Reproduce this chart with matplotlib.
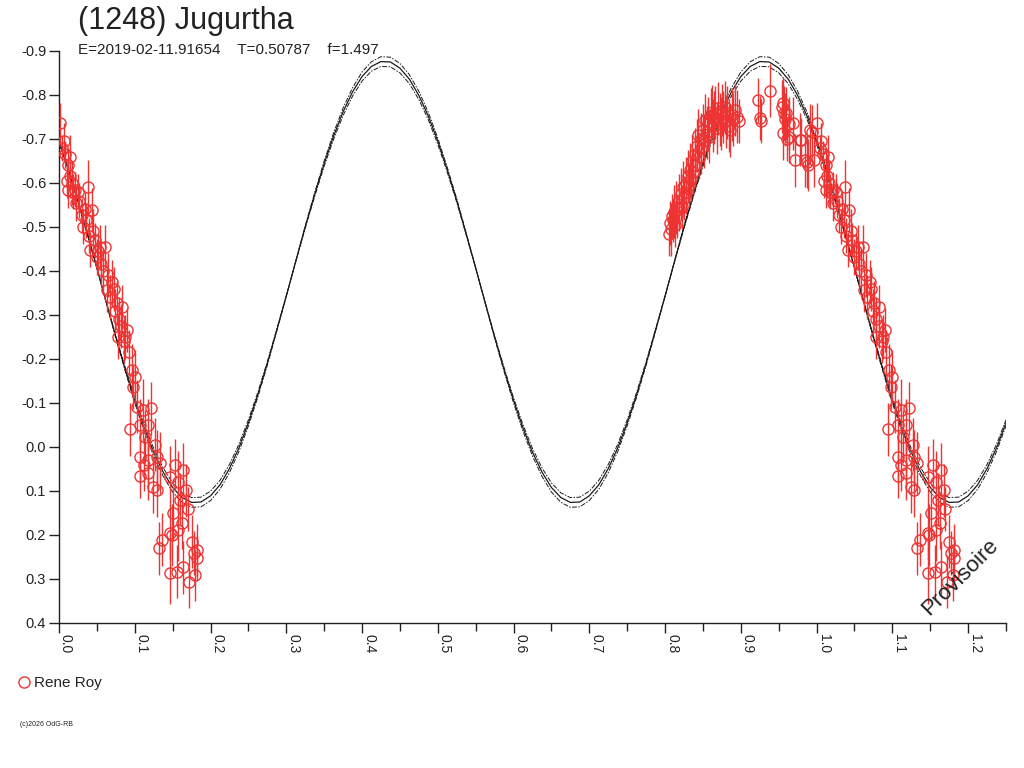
"""
(1248) Jugurtha - lightcurve folded on phase, Fourier fit with envelope
"""

import numpy as np
import matplotlib

matplotlib.use("Agg")
import matplotlib.pyplot as plt
from matplotlib.lines import Line2D

matplotlib.rcParams.update(
    {
        "font.family": ["Liberation Sans", "DejaVu Sans", "sans-serif"],
        "axes.unicode_minus": False,
        "figure.facecolor": "white",
    }
)

COLORS = {
    "text": "#222222",
    "fit": "#1a1a1a",
    "obs": "#EE3333",
}

TITLE = "(1248) Jugurtha"
SUBTITLE = "E=2019-02-11.91654    T=0.50787    f=1.497"
OBSERVER = "Rene Roy"
WATERMARK = "Provisoire"
COPYRIGHT = "(c)2026 OdG-RB"

# ─── data ─────────────────────────────────

# fitted curve, read every 0.0125 in phase from 0.0 to 1.0
FIT_STEP = 0.0125
FIT_MAG = [
    -0.695, -0.630, -0.560, -0.484, -0.407, -0.328, -0.250, -0.176,
    -0.106, -0.043, 0.012, 0.057, 0.092, 0.115, 0.126, 0.125,
    0.111, 0.086, 0.049, 0.002, -0.055, -0.119, -0.190, -0.266,
    -0.343, -0.422, -0.500, -0.574, -0.644, -0.707, -0.762, -0.807,
    -0.842, -0.865, -0.876, -0.875, -0.861, -0.836, -0.799, -0.752,
    -0.695, -0.630, -0.560, -0.484, -0.407, -0.328, -0.250, -0.176,
    -0.106, -0.043, 0.012, 0.057, 0.092, 0.115, 0.126, 0.125,
    0.111, 0.086, 0.049, 0.002, -0.055, -0.119, -0.190, -0.266,
    -0.343, -0.422, -0.500, -0.574, -0.644, -0.707, -0.762, -0.807,
    -0.842, -0.865, -0.876, -0.875, -0.861, -0.836, -0.799, -0.752,
    -0.695,
]
FIT_MEAN = -0.375
FIT_AMP_ERR = 0.022  # relative amplitude uncertainty of the envelope curves

OBS_PHASE = [
    # 0.00 - 0.09
    0.001, 0.006, 0.004, 0.008, 0.015, 0.012, 0.010, 0.014, 0.012, 0.018,
    0.017, 0.021, 0.025, 0.038, 0.022, 0.027, 0.030, 0.043, 0.034, 0.032,
    0.036, 0.039, 0.041, 0.045, 0.047, 0.054, 0.061, 0.050, 0.056, 0.052,
    0.058, 0.065, 0.070, 0.063, 0.067, 0.072, 0.076, 0.083, 0.074, 0.079,
    0.090, 0.078, 0.086, 0.082,
    # 0.085 - 0.185
    0.087, 0.092, 0.096, 0.098, 0.100, 0.094, 0.103, 0.111, 0.122, 0.118,
    0.107, 0.114, 0.127, 0.107, 0.118, 0.129, 0.133, 0.107, 0.118, 0.124,
    0.129, 0.112, 0.147, 0.153, 0.164, 0.157, 0.168, 0.160, 0.151, 0.163,
    0.157, 0.147, 0.136, 0.149, 0.132, 0.175, 0.182, 0.182, 0.147, 0.156,
    0.164, 0.180, 0.172, 0.178, 0.170,
    # 0.80 - 0.90
    0.805, 0.806, 0.808, 0.809, 0.811, 0.812, 0.813, 0.815, 0.816, 0.818,
    0.819, 0.821, 0.822, 0.824, 0.825, 0.827, 0.828, 0.830, 0.831, 0.833,
    0.834, 0.836, 0.837, 0.839, 0.840, 0.842, 0.844, 0.845, 0.847, 0.848,
    0.850, 0.852, 0.853, 0.855, 0.857, 0.858, 0.860, 0.862, 0.863, 0.865,
    0.866, 0.868, 0.870, 0.872, 0.874, 0.875, 0.877, 0.879, 0.880, 0.882,
    0.884, 0.886, 0.888, 0.890, 0.892, 0.895, 0.897,
    # 0.92 - 1.00
    0.923, 0.925, 0.926, 0.938, 0.954, 0.956, 0.957, 0.958, 0.960, 0.956,
    0.963, 0.964, 0.969, 0.961, 0.972, 0.978, 0.980, 0.985, 0.987, 0.989,
    0.991, 0.994, 0.997,
]
OBS_MAG = [
    -0.736, -0.696, -0.680, -0.665, -0.660, -0.640, -0.605, -0.615, -0.584, -0.580,
    -0.600, -0.585, -0.580, -0.592, -0.554, -0.560, -0.527, -0.539, -0.540, -0.501,
    -0.515, -0.480, -0.448, -0.490, -0.470, -0.455, -0.455, -0.432, -0.417, -0.445,
    -0.400, -0.391, -0.376, -0.357, -0.342, -0.360, -0.327, -0.319, -0.308, -0.290,
    -0.267, -0.251, -0.240, -0.275,
    -0.250, -0.215, -0.175, -0.137, -0.160, -0.040, -0.092, -0.084, -0.088, -0.050,
    -0.050, -0.023, -0.005, 0.022, 0.030, 0.022, 0.037, 0.066, 0.060, 0.090,
    0.098, 0.040, 0.068, 0.041, 0.052, 0.079, 0.098, 0.120, 0.151, 0.172,
    0.189, 0.196, 0.211, 0.200, 0.230, 0.215, 0.234, 0.253, 0.287, 0.283,
    0.273, 0.291, 0.306, 0.240, 0.140,
    -0.485, -0.510, -0.495, -0.525, -0.516, -0.535, -0.505, -0.545, -0.525, -0.560,
    -0.540, -0.575, -0.546, -0.590, -0.565, -0.600, -0.580, -0.615, -0.595, -0.630,
    -0.610, -0.650, -0.625, -0.665, -0.640, -0.685, -0.709, -0.660, -0.700, -0.680,
    -0.720, -0.695, -0.743, -0.715, -0.735, -0.705, -0.755, -0.762, -0.730, -0.748,
    -0.760, -0.725, -0.770, -0.745, -0.735, -0.766, -0.750, -0.772, -0.740, -0.760,
    -0.730, -0.720, -0.755, -0.745, -0.766, -0.751, -0.740,
    -0.789, -0.747, -0.740, -0.810, -0.773, -0.781, -0.760, -0.745, -0.758, -0.713,
    -0.705, -0.735, -0.736, -0.700, -0.652, -0.698, -0.698, -0.652, -0.648, -0.641,
    -0.720, -0.717, -0.652,
]
OBS_ERR = [
    0.045, 0.040, 0.030, 0.030, 0.050, 0.040, 0.040, 0.050, 0.040, 0.040,
    0.050, 0.040, 0.040, 0.060, 0.040, 0.040, 0.040, 0.050, 0.040, 0.040,
    0.040, 0.040, 0.040, 0.050, 0.040, 0.050, 0.050, 0.040, 0.050, 0.040,
    0.050, 0.050, 0.050, 0.050, 0.050, 0.050, 0.050, 0.050, 0.050, 0.050,
    0.050, 0.050, 0.050, 0.050,
    0.050, 0.050, 0.060, 0.050, 0.060, 0.060, 0.060, 0.070, 0.060, 0.060,
    0.060, 0.060, 0.060, 0.060, 0.060, 0.060, 0.070, 0.050, 0.060, 0.060,
    0.060, 0.060, 0.070, 0.060, 0.060, 0.070, 0.060, 0.060, 0.060, 0.060,
    0.070, 0.060, 0.060, 0.070, 0.060, 0.060, 0.060, 0.050, 0.070, 0.060,
    0.060, 0.060, 0.060, 0.050, 0.050,
    0.050, 0.050, 0.060, 0.050, 0.050, 0.060, 0.050, 0.060, 0.050, 0.060,
    0.050, 0.060, 0.050, 0.060, 0.050, 0.060, 0.050, 0.060, 0.050, 0.060,
    0.050, 0.060, 0.050, 0.060, 0.050, 0.060, 0.060, 0.050, 0.060, 0.060,
    0.060, 0.060, 0.060, 0.060, 0.060, 0.060, 0.060, 0.060, 0.060, 0.060,
    0.060, 0.060, 0.060, 0.060, 0.060, 0.060, 0.060, 0.060, 0.060, 0.060,
    0.060, 0.060, 0.060, 0.060, 0.060, 0.060, 0.050,
    0.050, 0.050, 0.050, 0.060, 0.060, 0.060, 0.060, 0.060, 0.060, 0.060,
    0.060, 0.060, 0.060, 0.050, 0.060, 0.060, 0.050, 0.060, 0.060, 0.060,
    0.060, 0.060, 0.060,
]

X_MAX = 1.25
X_TICKS = [0.0, 0.1, 0.2, 0.3, 0.4, 0.5, 0.6, 0.7, 0.8, 0.9, 1.0, 1.1, 1.2]
X_TICK_LABELS = ["0.0", "0.1", "0.2", "0.3", "0.4", "0.5", "0.6",
                 "0.7", "0.8", "0.9", "1.0", "1.1", "1.2"]
X_MINOR = [0.05, 0.15, 0.25, 0.35, 0.45, 0.55, 0.65, 0.75, 0.85, 0.95,
           1.05, 1.15, 1.25]
Y_TICKS = [-0.9, -0.8, -0.7, -0.6, -0.5, -0.4, -0.3, -0.2, -0.1,
           0.0, 0.1, 0.2, 0.3, 0.4]
Y_TICK_LABELS = ["-0.9", "-0.8", "-0.7", "-0.6", "-0.5", "-0.4", "-0.3",
                 "-0.2", "-0.1", "0.0", "0.1", "0.2", "0.3", "0.4"]


# ─── figure ─────────────────────────────────

fig = plt.figure(figsize=(10.24, 7.68), dpi=100)
ax = fig.add_axes([59 / 1024, 1 - 623 / 768, 947 / 1024, 572 / 768])

# fit + envelope, repeated past phase 1.0
fit_phase = np.arange(len(FIT_MAG)) * FIT_STEP
fit_mag = np.array(FIT_MAG)
upper = FIT_MEAN + (fit_mag - FIT_MEAN) * (1 + FIT_AMP_ERR)
lower = FIT_MEAN + (fit_mag - FIT_MEAN) * (1 - FIT_AMP_ERR)
wrap = fit_phase <= X_MAX - 1.0 + 1e-9
for shift, sel in ((0.0, slice(None)), (1.0, wrap)):
    ph = fit_phase[sel] + shift
    ax.plot(ph, fit_mag[sel], color=COLORS["fit"], lw=0.9, zorder=2)
    for env in (upper, lower):
        ax.plot(ph, env[sel], color=COLORS["fit"], lw=0.7,
                ls=(0, (5, 1.5, 1.5, 1.5)), zorder=2)

# observations, with copy beyond phase 1.0
obs_phase = np.array(OBS_PHASE)
obs_mag = np.array(OBS_MAG)
obs_err = np.array(OBS_ERR)
rep = obs_phase + 1.0 <= X_MAX
all_phase = np.concatenate([obs_phase, obs_phase[rep] + 1.0])
all_mag = np.concatenate([obs_mag, obs_mag[rep]])
all_err = np.concatenate([obs_err, obs_err[rep]])
ax.errorbar(
    all_phase, all_mag, yerr=all_err,
    fmt="o", ms=8, mfc="none", mec=COLORS["obs"], mew=1.0,
    ecolor=COLORS["obs"], elinewidth=1.0, capsize=0, zorder=3,
)

ax.set_xlim(0.0, X_MAX)
ax.set_ylim(0.4, -0.9)
for side in ("top", "right"):
    ax.spines[side].set_visible(False)
for side in ("left", "bottom"):
    ax.spines[side].set_color(COLORS["text"])
    ax.spines[side].set_linewidth(1.0)

ax.set_xticks(X_TICKS)
ax.set_xticks(X_MINOR, minor=True)
ax.set_xticklabels(X_TICK_LABELS, rotation=270, ha="left", va="top",
                   fontsize=10, color=COLORS["text"])
ax.set_yticks(Y_TICKS)
ax.set_yticklabels(Y_TICK_LABELS, fontsize=10.5, color=COLORS["text"])
ax.tick_params(axis="x", which="major", direction="out", length=7.2,
               width=1.0, color=COLORS["text"], pad=0.5)
ax.tick_params(axis="x", which="minor", direction="out", length=6,
               width=1.0, color=COLORS["text"])
ax.tick_params(axis="y", direction="out", length=7.2, width=1.0,
               color=COLORS["text"], pad=2)

# texts
fig.text(78 / 1024, 1 - 29 / 768, TITLE, fontsize=22,
         color=COLORS["text"], va="baseline", ha="left")
fig.text(78 / 1024, 1 - 54 / 768, SUBTITLE, fontsize=11,
         color=COLORS["text"], va="baseline", ha="left")
fig.text(960 / 1024, 1 - 577 / 768, WATERMARK, fontsize=16, rotation=45,
         color=COLORS["text"], ha="center", va="center")
fig.text(20 / 1024, 1 - 725 / 768, COPYRIGHT, fontsize=5,
         color=COLORS["text"], ha="left", va="center")

handle = Line2D([], [], ls="none", marker="o", ms=8, mfc="none",
                mec=COLORS["obs"], mew=1.0)
fig.legend([handle], [OBSERVER], loc="center left",
           bbox_to_anchor=(10 / 1024, 1 - 683 / 768), frameon=False,
           fontsize=11, handlelength=1.0, handletextpad=0.2,
           borderaxespad=0, labelcolor=COLORS["text"])

fig.savefig("out.png", dpi=100)
